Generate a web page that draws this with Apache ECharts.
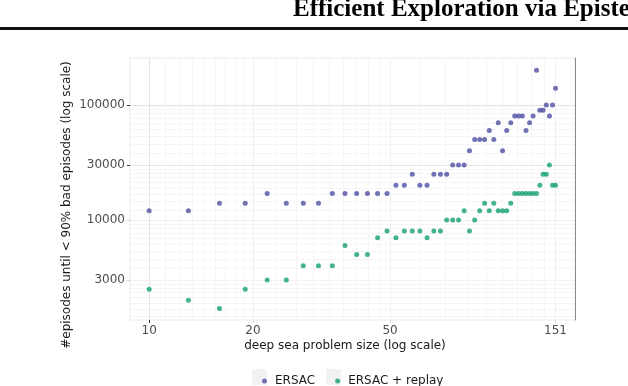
<!DOCTYPE html>
<html>
<head>
<meta charset="utf-8">
<script src="https://cdn.jsdelivr.net/npm/echarts@6/dist/echarts.min.js"></script>
<style>
  html, body { margin: 0; padding: 0; background: #fff; }
  #chart { width: 628px; height: 386px; }
</style>
</head>
<body>
<div id="chart"></div>
<script>
// deep sea problem sizes (x) and episodes until < 90% bad episodes (y)
var sizes = [10, 13, 16, 19, 22, 25, 28, 31, 34, 37, 40, 43, 46, 49, 52, 55, 58, 61, 64, 67,
             70, 73, 76, 79, 82, 85, 88, 91, 94, 97, 100, 103, 106, 109, 112, 115, 118, 121, 124, 127,
             130, 133, 136, 139, 142, 145, 148, 151];
var ersac = [12000, 12000, 14000, 14000, 17000, 14000, 14000, 14000, 17000, 17000,
             17000, 17000, 17000, 17000, 20000, 20000, 25000, 20000, 20000, 25000,
             25000, 25000, 30000, 30000, 30000, 40000, 50000, 50000, 50000, 60000,
             50000, 70000, 40000, 60000, 70000, 80000, 80000, 80000, 60000, 70000,
             80000, 200000, 90000, 90000, 100000, 80000, 100000, 140000];
var ersacReplay = [2500, 2000, 1700, 2500, 3000, 3000, 4000, 4000, 4000, 6000,
                   5000, 5000, 7000, 8000, 7000, 8000, 8000, 8000, 7000, 8000,
                   8000, 10000, 10000, 10000, 12000, 8000, 10000, 12000, 14000, 12000,
                   14000, 12000, 12000, 12000, 14000, 17000, 17000, 17000, 17000, 17000,
                   17000, 17000, 20000, 25000, 25000, 30000, 20000, 20000];

var xTicks = [10, 20, 50, 151];
var yTicks = [3000, 10000, 30000, 100000];
var xMinor = [11.11, 12.22, 13.33, 14.44, 15.56, 16.67, 17.78, 18.89,
              23.33, 26.67, 30, 33.33, 36.67, 40, 43.33, 46.67,
              61.22, 72.44, 83.67, 94.89, 106.11, 117.33, 128.56, 139.78];
var yMinor = [1444, 1667, 1889, 2111, 2333, 2556, 2778,
              3778, 4556, 5333, 6111, 6889, 7667, 8444, 9222,
              12222, 14444, 16667, 18889, 21111, 23333, 25556, 27778,
              37778, 45556, 53333, 61111, 68889, 76667, 84444, 92222];

var X_MIN = 8.8, X_MAX = 172;
var Y_MIN = 1350, Y_MAX = 256000;
var FONT = 'DejaVu Sans';

function fmt(v) { return String(Math.round(v)); }

// one log axis that only draws grid lines/ticks at the given values
function logAxis(min, max, values, gridColor, tickColor, withLabels, position) {
    return {
        type: 'log',
        logBase: 10,
        min: min,
        max: max,
        position: position,
        axisLine: {show: false},
        axisTick: {
            show: tickColor != null,
            customValues: values,
            length: 3,
            lineStyle: {color: tickColor || '#fff', width: 1}
        },
        axisLabel: {
            show: withLabels,
            customValues: values,
            formatter: fmt,
            color: '#4d4d4d',
            fontSize: 12,
            fontFamily: FONT,
            margin: 5
        },
        splitLine: {show: true, lineStyle: {color: gridColor, width: 1}},
        minorTick: {show: false},
        minorSplitLine: {show: false}
    };
}

function toPoints(ys) {
    return sizes.map(function (s, i) { return [s, ys[i]]; });
}

var chart = echarts.init(document.getElementById('chart'));
var option = {
    backgroundColor: '#fff',
    animation: false,
    textStyle: {fontFamily: FONT},
    grid: {
        left: 130, right: 53, top: 58, bottom: 66,
        show: true, borderColor: '#ebebeb', borderWidth: 1, backgroundColor: 'transparent'
    },
    xAxis: [
        logAxis(X_MIN, X_MAX, xMinor, '#f5f5f5', null, false, 'bottom'),
        logAxis(X_MIN, X_MAX, xTicks, '#f0f0f0', '#d6d6d6', true, 'bottom'),
        logAxis(X_MIN, X_MAX, [10], '#e3e3e3', '#333333', false, 'bottom')
    ],
    yAxis: [
        logAxis(Y_MIN, Y_MAX, yMinor, '#f5f5f5', null, false, 'left'),
        logAxis(Y_MIN, Y_MAX, yTicks, '#f0f0f0', '#d6d6d6', true, 'left'),
        logAxis(Y_MIN, Y_MAX, [30000, 100000], '#e3e3e3', '#333333', false, 'left'),
        {
            type: 'log', min: Y_MIN, max: Y_MAX, position: 'right',
            axisLine: {show: true, lineStyle: {color: '#8a8a8a', width: 1}},
            axisTick: {show: false}, axisLabel: {show: false}, splitLine: {show: false}
        }
    ],
    legend: {
        data: ['ERSAC', 'ERSAC + replay'],
        left: 257,
        top: 370,
        orient: 'horizontal',
        icon: 'circle',
        itemWidth: 5,
        itemHeight: 5,
        itemGap: 20,
        textStyle: {fontSize: 12, color: '#1a1a1a', fontFamily: FONT, padding: [0, 0, 0, 3]}
    },
    graphic: [
        {
            type: 'text', left: 293, top: -3, z: 10,
            style: {text: 'Efficient Exploration via Episte', font: 'bold 25px "Liberation Serif"', fill: '#000'}
        },
        {type: 'rect', left: 0, top: 27, shape: {width: 628, height: 3}, style: {fill: '#111'}},
        {
            type: 'text', x: 67, y: 205, rotation: Math.PI / 2,
            style: {text: '#episodes until < 90% bad episodes (log scale)', font: '12px "DejaVu Sans"',
                    fill: '#1a1a1a', align: 'center', verticalAlign: 'middle'}
        },
        {
            type: 'text', x: 345, y: 346,
            style: {text: 'deep sea problem size (log scale)', font: '12px "DejaVu Sans"',
                    fill: '#1a1a1a', align: 'center', verticalAlign: 'middle'}
        },
        {type: 'rect', left: 252, top: 369, z: 0, shape: {width: 15, height: 16}, style: {fill: '#f2f2f2'}},
        {type: 'rect', left: 326, top: 369, z: 0, shape: {width: 15, height: 16}, style: {fill: '#f2f2f2'}}
    ],
    series: [
        {
            name: 'ERSAC', type: 'scatter', xAxisIndex: 1, yAxisIndex: 1,
            symbol: 'circle', symbolSize: 5,
            itemStyle: {color: '#4e4ea3'},
            data: toPoints(ersac)
        },
        {
            name: 'ERSAC + replay', type: 'scatter', xAxisIndex: 1, yAxisIndex: 1,
            symbol: 'circle', symbolSize: 5,
            itemStyle: {color: '#14a070'},
            data: toPoints(ersacReplay)
        }
    ]
};
chart.setOption(option);
</script>
</body>
</html>
